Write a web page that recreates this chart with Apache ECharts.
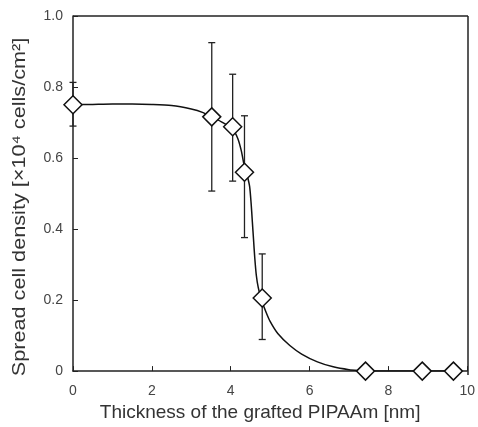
<!DOCTYPE html>
<html><head><meta charset="utf-8">
<script src="https://cdn.jsdelivr.net/npm/echarts@6/dist/echarts.min.js"></script>
<style>html,body{margin:0;padding:0;background:#fff}#c{width:478px;height:427px}</style>
</head><body><div id="c"></div>
<script>
// measured points
var pointX = [0, 3.52, 4.05, 4.35, 4.8, 7.42, 8.86, 9.65];
var pointY = [0.75, 0.716, 0.688, 0.56, 0.206, 0, 0, 0];
var errLow = [0.69, 0.507, 0.535, 0.376, 0.089, null, null, null];
var errHigh = [0.813, 0.925, 0.836, 0.719, 0.33, null, null, null];
// fitted curve
var curveX = [0, 0.5, 1, 1.5, 2, 2.5, 3, 3.3, 3.52, 3.8, 4.05, 4.18, 4.27, 4.35, 4.42, 4.48, 4.52, 4.55, 4.58, 4.61, 4.65, 4.7, 4.78, 4.9, 5.0, 5.2, 5.5, 5.8, 6.2, 6.6, 7.0, 7.3, 7.42, 8, 9, 9.65];
var curveY = [0.75, 0.751, 0.752, 0.752, 0.751, 0.748, 0.738, 0.728, 0.716, 0.70, 0.682, 0.655, 0.62, 0.575, 0.55, 0.52, 0.47, 0.42, 0.37, 0.32, 0.27, 0.235, 0.20, 0.165, 0.14, 0.105, 0.072, 0.048, 0.026, 0.012, 0.004, 0.001, 0, 0, 0, 0];
var xTitle = 'Thickness of the grafted PIPAAm [nm]';
var yTitle = 'Spread cell density [\u00d710\u2074 cells/cm\u00b2]';

var chart = echarts.init(document.getElementById('c'));
var axisCol = '#222';
var labelCol = '#444';
var curveData = curveX.map(function (x, i) { return [x, curveY[i]]; });
var pts = pointX.map(function (x, i) { return [x, pointY[i]]; });
var errData = [];
pointX.forEach(function (x, i) { if (errLow[i] != null) errData.push([x, errLow[i], errHigh[i]]); });

chart.setOption({
  animation: false,
  grid: { left: 73, right: 10, top: 16, bottom: 52 },
  xAxis: {
    type: 'value', min: 0, max: 10, interval: 2,
    name: xTitle, nameLocation: 'middle', nameGap: 30,
    nameTextStyle: { fontFamily: 'Liberation Sans', fontSize: 19, color: '#333', padding: [0, 20, 0, 0] },
    axisLine: { show: true, onZero: false, lineStyle: { color: axisCol, width: 1.5 } },
    axisTick: { show: true, inside: true, length: 5, lineStyle: { color: axisCol } },
    axisLabel: { fontFamily: 'Liberation Sans', fontSize: 14, color: labelCol, margin: 13 },
    splitLine: { show: false }
  },
  yAxis: {
    type: 'value', min: 0, max: 1.0, interval: 0.2,
    axisLine: { show: true, onZero: false, lineStyle: { color: axisCol, width: 1.5 } },
    axisTick: { show: true, inside: true, length: 5, lineStyle: { color: axisCol } },
    axisLabel: { fontFamily: 'Liberation Sans', fontSize: 14, color: labelCol, margin: 10,
      formatter: function (v) { return v === 0 ? '0' : v.toFixed(1); } },
    splitLine: { show: false }
  },
  series: [
    { type: 'line', data: curveData, showSymbol: false, symbol: 'none', smooth: 0.25,
      lineStyle: { color: '#111', width: 1.5 }, z: 2, silent: true },
    { type: 'custom', data: errData, z: 3, silent: true,
      renderItem: function (params, api) {
        var x = api.value(0);
        var lo = api.coord([x, api.value(1)]);
        var hi = api.coord([x, api.value(2)]);
        var w = 3.5;
        return { type: 'group', children: [
          { type: 'line', shape: { x1: lo[0], y1: lo[1], x2: hi[0], y2: hi[1] }, style: { stroke: '#222', lineWidth: 1.3 } },
          { type: 'line', shape: { x1: lo[0] - w, y1: lo[1], x2: lo[0] + w, y2: lo[1] }, style: { stroke: '#222', lineWidth: 1.3 } },
          { type: 'line', shape: { x1: hi[0] - w, y1: hi[1], x2: hi[0] + w, y2: hi[1] }, style: { stroke: '#222', lineWidth: 1.3 } }
        ] };
      } },
    { type: 'scatter', data: pts, symbol: 'diamond', symbolSize: [18, 18], z: 4,
      itemStyle: { color: '#fff', borderColor: '#111', borderWidth: 1.5, opacity: 1 } }
  ],
  graphic: [
    { type: 'line', shape: { x1: 73, y1: 16, x2: 468, y2: 16 }, style: { stroke: axisCol, lineWidth: 1.5 }, z: 10 },
    { type: 'line', shape: { x1: 468, y1: 16, x2: 468, y2: 375 }, style: { stroke: axisCol, lineWidth: 1.5 }, z: 10 },
    { type: 'text', x: 20, y: 207, rotation: Math.PI / 2, scaleX: 1.14, scaleY: 1,
      style: { text: yTitle, font: '19px "Liberation Sans"', fill: '#333', align: 'center', verticalAlign: 'middle' } }
  ]
});
</script></body></html>
